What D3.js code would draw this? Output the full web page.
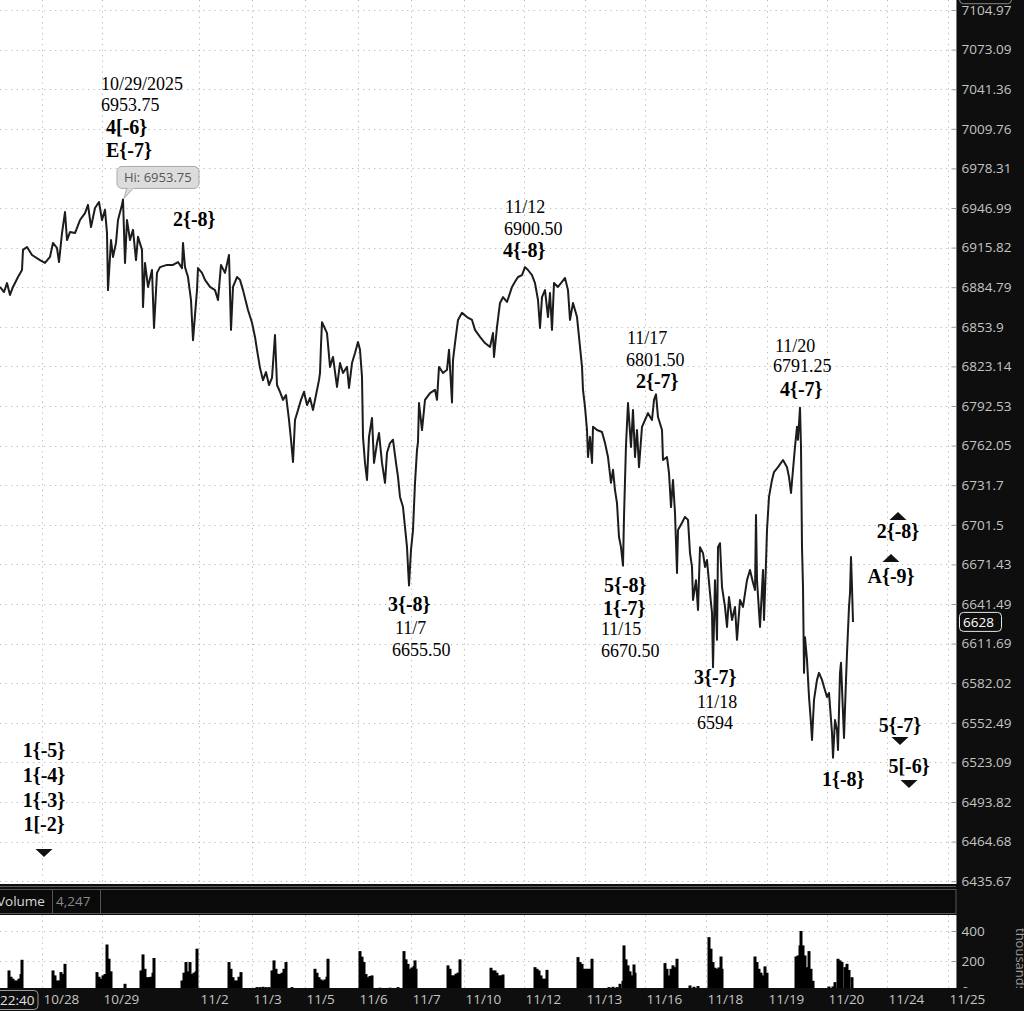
<!DOCTYPE html>
<html>
<head>
<meta charset="utf-8">
<script src="https://cdn.jsdelivr.net/npm/d3@7"></script>
<style>
  html, body { margin: 0; padding: 0; background: #fff; overflow: hidden; }
  svg { display: block; }
</style>
</head>
<body>
<svg id="chart" width="1024" height="1011"></svg>
<script>
// ---------- data (bar index = session slot on the x axis) ----------
var priceTicks = [7104.97, 7073.09, 7041.36, 7009.76, 6978.31, 6946.99, 6915.82, 6884.79,
  6853.9, 6823.14, 6792.53, 6762.05, 6731.7, 6701.5, 6671.43, 6641.49, 6611.69, 6582.02,
  6552.49, 6523.09, 6493.82, 6464.68, 6435.67];

var dayLabels = ["10/28", "10/29", "11/2", "11/3", "11/5", "11/6", "11/7", "11/10",
  "11/12", "11/13", "11/16", "11/18", "11/19", "11/20", "11/24", "11/25"];
var dayBars = [21, 51, 99.5, 126, 152.5, 179, 205.5, 232, 262, 292.5, 322.5, 353, 383.5, 413.5, 443.5, 474];

var volTicks = [0, 200, 400];

var lastPrice = 6628, topPrice = 7117.71;
var hiBar = 61.5, hiPrice = 6953.75;
var volumeNow = "4,247";
var firstTime = "22:40";

var closes = [[0,6885],[2,6881],[3.5,6888],[5,6878.75],[6.5,6885],[9,6892.75],[11,6898.25],[11.5,6914],
  [13.5,6916.25],[16,6910],[20,6906],[22.5,6903.75],[25,6908.5],[26.5,6919.5],[28.5,6915.5],[29.5,6904.5],
  [31,6927.25],[32.5,6943.75],[33.5,6921.75],[35,6928],[37.5,6927.25],[40,6937.5],[42.5,6943],[44,6949.5],
  [45.5,6932],[47.5,6947],[49.5,6951.75],[51,6937.5],[52.5,6945.5],[53.5,6927.25],[54,6882.5],[55.5,6921.75],
  [56.5,6908.5],[58,6919.5],[59,6937.5],[61,6949.5],[61.5,6953.75],[62.5,6903.75],[63.5,6937.5],[65,6921.75],
  [66.5,6929.75],[68,6906],[69,6924.25],[71,6914],[71.5,6869.25],[72.5,6903.75],[74,6885],[76,6898.25],
  [77,6853],[78.5,6896],[80,6900.5],[83.5,6902.25],[86.5,6902.25],[89,6904.5],[91,6899.75],[91.5,6919.5],
  [92.5,6900.5],[94,6892.75],[95.5,6874.75],[96.5,6843.5],[98.5,6882.5],[99,6899.75],[101,6896],[102.5,6890.5],
  [105,6885],[107.5,6882.5],[109,6874.75],[110.5,6902.25],[112.5,6896],[114.5,6910],[115.5,6851.5],[116.5,6885],
  [118.5,6892.75],[120,6890.5],[121.5,6882.5],[124,6867],[126,6857],[127.5,6846],[128.5,6836],[130,6822],
  [131.5,6812.5],[133,6818.75],[134.5,6808.75],[136,6814.25],[137.5,6847.5],[138.5,6808.75],[140,6803.5],
  [141.5,6797.25],[143,6801],[144.5,6781.75],[145.5,6766.5],[146.5,6749.5],[147.5,6781.75],[149,6789.5],
  [150.5,6797.25],[152,6803.5],[153.5,6793.25],[155,6798.75],[156.5,6789.5],[158,6801],[159.5,6812.5],
  [160,6818],[160.5,6839.75],[161,6857.5],[163.5,6849],[165,6822.75],[166.5,6830.5],[168.5,6807.25],
  [170,6825.75],[171.5,6818],[173.5,6822.75],[174.5,6806.5],[176,6825.75],[177.5,6833.5],[179,6842],
  [180,6836],[181,6815],[181.5,6768.75],[182.5,6748.75],[183.5,6735.75],[184.5,6768.75],[186,6783.25],
  [187,6748.75],[188.5,6764],[189.5,6771.75],[191,6748.75],[192.5,6733.5],[193.5,6756.5],[195,6764],
  [196.5,6766.5],[198,6748.75],[199,6738],[200,6722.75],[201.5,6715],[202.5,6699.75],[203.5,6684.5],
  [204,6669.5],[204.5,6655.5],[205.5,6682.5],[206.5,6697.5],[207.5,6733.5],[208.5,6758.75],[209,6765],
  [209.5,6794.75],[211,6774],[212.5,6797.25],[215,6802.5],[217.5,6805],[218.5,6797.25],[219.5,6822.75],
  [221.5,6818],[223.5,6820.5],[224.5,6836],[226,6795.25],[226.5,6828],[227.5,6841.25],[229,6859.25],
  [231,6864.75],[233.5,6861.5],[236,6859.25],[237.5,6851.5],[240,6846],[242.5,6841.25],[245,6838.25],
  [246.5,6849],[247,6830.5],[248.5,6853.75],[250,6872.5],[251.5,6877],[253.5,6873.25],[256,6885],
  [257.5,6889],[259,6892.75],[261,6894.25],[262.5,6900.5],[264,6898.25],[266,6894.25],[267.5,6888],
  [269,6874.75],[270,6853],[271,6877],[272.5,6882.5],[274,6861.5],[275,6880.25],[276,6851.5],[277,6888],
  [279,6885],[281,6889],[282.5,6892],[284,6882.5],[285,6859.25],[286.5,6872.5],[288.5,6861.5],[289.5,6846],
  [291,6822.75],[291.5,6805],[292.5,6791.75],[293.5,6774],[294,6753.25],[295,6768.75],[296,6748.75],
  [296.5,6776.5],[298.5,6774],[301,6772.5],[302.5,6764],[304,6753.25],[305.5,6733.5],[306.5,6743.5],
  [307.5,6728],[308.5,6718],[309.5,6692.25],[310.5,6684.5],[311.5,6670.5],[312,6707.5],[313,6762.5],
  [314,6794.75],[315.5,6761],[316.5,6789.5],[317.5,6753.25],[318.5,6774],[319.5,6745.5],[321,6776.5],
  [322.5,6781.75],[324,6787],[326,6781.75],[327,6797.25],[328,6801.5],[329,6784],[331,6774],[331.5,6751],
  [333.5,6753.25],[334.5,6741],[335.5,6715],[336.5,6735.75],[337.5,6710.5],[338.5,6665],[339,6697.5],
  [341,6703],[342.5,6707.5],[344,6705.25],[345,6680],[346,6669.5],[346.5,6644.5],[348,6659.5],[349,6637],
  [350,6684.5],[351.5,6680],[352.5,6669.5],[353.5,6674.75],[355,6649.75],[356,6634.75],[356.5,6594],
  [357.5,6659.5],[358.5,6614.5],[359,6684.5],[360,6687.5],[361,6654.25],[362.5,6639.25],[363.5,6624.25],
  [364.5,6646.75],[366,6629.5],[367.5,6639.25],[368.5,6614.5],[370,6644.5],[371.5,6639.25],[373.5,6659.5],
  [375,6667.25],[376.5,6657.5],[377.5,6652],[378,6709],[378.5,6659.5],[380,6624.25],[381.5,6667.25],
  [382,6629.5],[383,6672.5],[383.5,6697.5],[384.5,6722.75],[386,6735.75],[387,6741.75],[389,6745.5],
  [391.5,6751],[393.5,6745.5],[394.5,6738],[395.5,6725.75],[396.5,6743.5],[397.5,6761],[398.5,6776.5],
  [399,6766.5],[400,6791.25],[400.5,6761],[401,6684.5],[401.5,6654.25],[402,6589.75],[402.5,6616.5],
  [403.5,6599.5],[404.5,6571.75],[405.5,6552.25],[406,6539.75],[407,6569.5],[408.5,6584.5],[409.5,6589.75],
  [411,6584.5],[412,6579.25],[413.5,6571.75],[414.5,6574.75],[416,6545],[416.5,6526.5],[417.5,6554.5],
  [418.5,6547],[419,6532.25],[420,6589.75],[420.5,6597.25],[421.5,6559.75],[422,6541.25],[423,6584.5],
  [423.5,6604.5],[424.5,6639.25],[425,6649.75],[425.5,6677],[426,6654.25],[426.5,6628]];

// volume in thousands
var volumes = [[4.5,137],[5.5,95],[6.5,82],[7.5,70],[8.5,70],[9.5,82],[10.5,113],[11,208],
  [26.5,137],[27.5,104],[28.5,70],[29.5,70],[30.5,126],[31.5,113],[32.5,181],
  [48.5,126],[49.5,95],[50.5,82],[51.5,104],[52.5,113],[53.5,310],[54.5,215],[55.5,131],[62.5,48],
  [70.5,137],[71.5,244],[72.5,148],[73.5,92],[74.5,92],[75.5,95],[76.5,122],[77,220],
  [91,70],[92,122],[93,193],[94,131],[95,193],[96,113],[97,122],[98,131],[98.5,282],
  [114.5,193],[115.5,148],[116.5,92],[117.5,70],[118.5,70],[119.5,95],[120.5,126],
  [128.5,26],[130,26],[131.5,28],[133,26],[134.5,26],[136,137],[137,204],[138,148],[139,115],[140,113],
  [141,122],[142,148],[143,193],[146,26],
  [157.5,148],[158.5,122],[159.5,92],[160.5,77],[161.5,70],[162.5,77],[163.5,95],[164,215],
  [180,266],[181,229],[182,193],[183,113],[184,92],[185,100],[186,104],[190,22],[195,22],[199,26],
  [202,266],[203,211],[204,181],[205,148],[206,157],[207,166],[207.5,204],[208,148],
  [224,171],[225,148],[226,104],[227,104],[228,115],[229,122],[230,211],
  [245.5,155],[246.5,137],[247.5,137],[248.5,122],[249.5,104],[250.5,104],[251.5,110],
  [267.5,159],[268.5,148],[269.5,137],[270.5,104],[271.5,82],[272.5,82],[273.5,141],
  [289,226],[290,193],[291,181],[292,148],[293,148],[294,148],[295,148],[296,215],
  [304.5,26],[306.5,28],[308.5,26],
  [310,48],[311.5,68],[312,304],[313,211],[314,171],[315,131],[316,104],[317,177],[317.5,122],
  [332.5,186],[333.5,148],[334.5,104],[335.5,148],[336.5,171],[337.5,159],[338.5,215],
  [345,37],[347,28],[349,33],
  [354.5,359],[355.5,282],[356.5,193],[357.5,155],[358.5,148],[359.5,157],[360.5,230],[361,148],
  [377.5,230],[378.5,193],[379.5,148],[380.5,122],[381.5,104],[382.5,164],[383.5,122],
  [398,230],[399,237],[400,304],[400.5,400],[401.5,304],[402.5,237],[403.5,159],[404.5,266],[405.5,148],[406.5,68],
  [414.5,30],[416.5,30],[417.5,59],[419,215],[420,204],[421,193],[422.5,159],[423.5,181],[424.5,140],[426,92]];

// wave labels hung on swing points
var swingNotes = [
  {bar: 61.5,  price: 6953.75, lines: [["10/29/2025","r"],["6953.75","r"],["4[-6}","b"],["E{-7}","b"]]},
  {bar: 91.5,  price: 6919.5,  lines: [["2{-8}","b"]]},
  {bar: 262.5, price: 6900.5,  lines: [["11/12","r"],["6900.50","r"],["4{-8}","b"]]},
  {bar: 204.5, price: 6655.5,  lines: [["3{-8}","b"],["11/7","r"],["6655.50","r"]]},
  {bar: 328,   price: 6801.5,  lines: [["11/17","r"],["6801.50","r"],["2{-7}","b"]]},
  {bar: 311.5, price: 6670.5,  lines: [["5{-8}","b"],["1{-7}","b"],["11/15","r"],["6670.50","r"]]},
  {bar: 356.5, price: 6594,    lines: [["3{-7}","b"],["11/18","r"],["6594","r"]]},
  {bar: 400,   price: 6791.25, lines: [["11/20","r"],["6791.25","r"],["4{-7}","b"]]},
  {bar: 416.5, price: 6526.5,  lines: [["1{-8}","b"]]}
];

// arrow markers with their labels
var arrowNotes = [
  {bar: 22,    price: 6453.4,  dir: "down", lines: ["1{-5}","1{-4}","1{-3}","1[-2}"]},
  {bar: 449,   price: 6711.25, dir: "up",   lines: ["2{-8}"]},
  {bar: 445.5, price: 6679.3,  dir: "up",   lines: ["A{-9}"]},
  {bar: 450,   price: 6536,    dir: "down", lines: ["5{-7}"]},
  {bar: 454.5, price: 6504.1,  dir: "down", lines: ["5[-6}"]}
];

// ---------- layout ----------
var plotR = 956, mainBot = 884, volTop = 915, volBot = 988;
var serif = "'Liberation Serif','Times New Roman',serif";
var sans = "'Open Sans','DejaVu Sans',sans-serif";

// text offsets (px) for each swing note, same order as swingNotes
var swingOffsets = [
  {dx: [-22,-22,-17,-17], dy: [-109,-88,-65,-42]},
  {dx: [-10], dy: [-17]},
  {dx: [-20,-21,-22], dy: [-54,-32,-10]},
  {dx: [-21,-14,-17], dy: [26,49,71]},
  {dx: [-29,-30,-20], dy: [-50,-28,-6]},
  {dx: [-19,-20,-22,-22], dy: [26,49,69,91]},
  {dx: [-19,-16,-16], dy: [17,41,62]},
  {dx: [-25,-27,-20], dy: [-56,-36,-12]},
  {dx: [-11], dy: [28]}
];
var arrowOffsets = [[-100,-75,-50,-26], [26], [29], [-13], [-15]];

var svg = d3.select("#chart");

var x = d3.scaleLinear().domain([0, 478]).range([0, plotR]);
var y = d3.scaleLog()
  .domain([priceTicks[priceTicks.length - 1], priceTicks[0]])
  .range([881.2, 10]);
var yv = d3.scaleLinear().domain([0, 400]).range([991, 931]);

svg.append("rect").attr("width", 1024).attr("height", 1011).attr("fill", "#fff");

svg.append("defs").append("clipPath").attr("id", "mainClip")
  .append("rect").attr("x", 0).attr("y", 0).attr("width", plotR).attr("height", mainBot);

/* grid */
var grid = svg.append("g").attr("stroke", "#bdbdbd").attr("stroke-dasharray", "1.3,4.2");
grid.selectAll(".hg").data(priceTicks).enter().append("line")
  .attr("x1", 0).attr("x2", plotR - 5)
  .attr("y1", function(d) { return Math.round(y(d)) + 0.5; })
  .attr("y2", function(d) { return Math.round(y(d)) + 0.5; });
grid.selectAll(".vg").data(dayBars).enter().append("line")
  .attr("x1", function(d) { return Math.round(x(d)) + 0.5; })
  .attr("x2", function(d) { return Math.round(x(d)) + 0.5; })
  .attr("y1", 0).attr("y2", mainBot);
grid.selectAll(".vg2").data(dayBars).enter().append("line")
  .attr("x1", function(d) { return Math.round(x(d)) + 0.5; })
  .attr("x2", function(d) { return Math.round(x(d)) + 0.5; })
  .attr("y1", volTop).attr("y2", volBot);
grid.selectAll(".vh").data(volTicks.slice(1)).enter().append("line")
  .attr("x1", 0).attr("x2", plotR - 5)
  .attr("y1", function(d) { return Math.round(yv(d)) + 0.5; })
  .attr("y2", function(d) { return Math.round(yv(d)) + 0.5; });

/* price line */
var line = d3.line()
  .x(function(d) { return x(d[0]); })
  .y(function(d) { return y(d[1]); });

svg.append("path").datum(closes)
  .attr("clip-path", "url(#mainClip)")
  .attr("d", line)
  .attr("fill", "none")
  .attr("stroke", "#1c1c1c")
  .attr("stroke-width", 2)
  .attr("stroke-linejoin", "round");

/* swing labels */
var notes = svg.append("g").attr("font-family", serif).attr("fill", "#000");
swingNotes.forEach(function(n, i) {
  var px = x(n.bar), py = y(n.price), off = swingOffsets[i];
  n.lines.forEach(function(l, j) {
    notes.append("text")
      .attr("x", px + off.dx[j]).attr("y", py + off.dy[j])
      .attr("font-size", l[1] == "b" ? 20 : 18)
      .attr("font-weight", l[1] == "b" ? "bold" : "normal")
      .text(l[0]);
  });
});

arrowNotes.forEach(function(n, i) {
  var px = x(n.bar), py = y(n.price);
  var h = n.dir == "up" ? 8 : -8;
  notes.append("path")
    .attr("d", "M" + px + "," + py + "L" + (px - 8.5) + "," + (py + h) + "L" + (px + 8.5) + "," + (py + h) + "Z")
    .attr("fill", "#111");
  n.lines.forEach(function(t, j) {
    notes.append("text")
      .attr("x", px).attr("y", py + arrowOffsets[i][j])
      .attr("text-anchor", "middle")
      .attr("font-size", 20).attr("font-weight", "bold")
      .text(t);
  });
});

/* Hi bubble */
var hx = x(hiBar), hy = y(hiPrice);
var bub = svg.append("g");
bub.append("path")
  .attr("d", "M" + (hx + 1) + "," + (hy - 1) + "L" + (hx + 4) + "," + (hy - 12) + "L" + (hx + 11) + "," + (hy - 12) + "Z")
  .attr("fill", "#dcdcdc").attr("stroke", "#a9a9a9");
bub.append("rect")
  .attr("x", hx - 6).attr("y", hy - 33).attr("width", 82).attr("height", 22).attr("rx", 5)
  .attr("fill", "#dcdcdc").attr("stroke", "#a9a9a9");
bub.append("path")
  .attr("d", "M" + (hx + 4.5) + "," + (hy - 11.5) + "L" + (hx + 10.5) + "," + (hy - 11.5))
  .attr("stroke", "#dcdcdc").attr("stroke-width", 1.5);
bub.append("text")
  .attr("x", hx + 1).attr("y", hy - 17.5)
  .attr("font-family", sans).attr("font-size", 13).attr("fill", "#555")
  .text("Hi: " + hiPrice.toFixed(2));

/* volume pane */
svg.append("g").selectAll("rect").data(volumes).enter().append("rect")
  .attr("x", function(d) { return x(d[0]) - 1.5; })
  .attr("y", function(d) { return yv(d[1]); })
  .attr("width", 3)
  .attr("height", function(d) { return yv(0) - yv(d[1]); })
  .attr("fill", "#000");

// header strip between panes
svg.append("rect").attr("x", 0).attr("y", mainBot).attr("width", 1024).attr("height", volTop - mainBot)
  .attr("fill", "#0e0e0e");
svg.append("line").attr("x1", 0).attr("x2", plotR).attr("y1", mainBot + 2.5).attr("y2", mainBot + 2.5)
  .attr("stroke", "#5a5a5a");
svg.append("rect").attr("x", -1).attr("y", 889.5).attr("width", plotR + 1).attr("height", 24)
  .attr("fill", "#0a0a0a").attr("stroke", "#555");
[52.5, 100.5].forEach(function(sx) {
  svg.append("line").attr("x1", sx).attr("x2", sx).attr("y1", 890).attr("y2", 913).attr("stroke", "#555");
});
svg.append("text").attr("x", -3).attr("y", 906).attr("font-family", sans).attr("font-size", 13.5)
  .attr("fill", "#d8d8d8").text("Volume");
svg.append("text").attr("x", 56).attr("y", 906).attr("font-family", sans).attr("font-size", 13.5)
  .attr("fill", "#8a8a8a").text(volumeNow);

/* right axis column */
svg.append("rect").attr("x", plotR + 1).attr("y", 0).attr("width", 1024 - plotR).attr("height", 1011)
  .attr("fill", "#0e0e0e");
svg.append("line").attr("x1", plotR + 0.5).attr("x2", plotR + 0.5).attr("y1", 0).attr("y2", mainBot)
  .attr("stroke", "#777");
svg.append("line").attr("x1", plotR + 0.5).attr("x2", plotR + 0.5).attr("y1", volTop).attr("y2", volBot)
  .attr("stroke", "#777");

var yAxis = d3.axisRight(y).tickValues(priceTicks).tickFormat(String)
  .tickSizeInner(-5).tickSizeOuter(0).tickPadding(5);
var ya = svg.append("g").attr("transform", "translate(" + (plotR + 0.5) + ",0)").call(yAxis);
ya.select(".domain").remove();
ya.selectAll("line").attr("stroke", "#9a9a9a");
ya.selectAll("text").attr("font-family", sans).attr("font-size", 13.5).attr("fill", "#c4c4c4");

var vAxis = d3.axisRight(yv).tickValues(volTicks).tickFormat(String)
  .tickSizeInner(-5).tickSizeOuter(0).tickPadding(5);
var va = svg.append("g").attr("transform", "translate(" + (plotR + 0.5) + ",0)").call(vAxis);
va.select(".domain").remove();
va.selectAll("line").attr("stroke", "#9a9a9a");
va.selectAll("text").attr("font-family", sans).attr("font-size", 13.5).attr("fill", "#c4c4c4");

svg.append("text")
  .attr("transform", "translate(1016,928) rotate(90)")
  .attr("font-family", sans).attr("font-size", 13).attr("fill", "#9a9a9a")
  .text("thousands");

// price boxes on the axis
function priceBox(v, stroke, color, w) {
  var cy = y(v);
  svg.append("rect").attr("x", plotR + 3.5).attr("y", cy - 9.5).attr("width", w).attr("height", 19).attr("rx", 4)
    .attr("fill", "#0e0e0e").attr("stroke", stroke);
  svg.append("text").attr("x", plotR + 7).attr("y", cy + 4.8)
    .attr("font-family", sans).attr("font-size", 13.5).attr("fill", color)
    .text(String(v));
}
priceBox(topPrice, "#8a8a8a", "#b0b0b0", 52);
priceBox(lastPrice, "#e6e6e6", "#ffffff", 42);

/* x axis strip */
svg.append("rect").attr("x", 0).attr("y", volBot).attr("width", 1024).attr("height", 1011 - volBot)
  .attr("fill", "#0e0e0e");
var xAxis = d3.axisBottom(x).tickValues(dayBars)
  .tickFormat(function(d, i) { return dayLabels[i]; })
  .tickSize(0).tickPadding(6);
var xa = svg.append("g").attr("transform", "translate(0," + volBot + ")").call(xAxis);
xa.select(".domain").remove();
xa.selectAll("text").attr("text-anchor", "start").attr("dx", 1)
  .attr("font-family", sans).attr("font-size", 13.5).attr("fill", "#c4c4c4");

svg.append("rect").attr("x", -4).attr("y", 990.5).attr("width", 42).attr("height", 19).attr("rx", 4)
  .attr("fill", "#0e0e0e").attr("stroke", "#9a9a9a");
svg.append("text").attr("x", 0).attr("y", 1005).attr("font-family", sans).attr("font-size", 13.5)
  .attr("fill", "#e0e0e0").text(firstTime);
</script>
</body>
</html>
